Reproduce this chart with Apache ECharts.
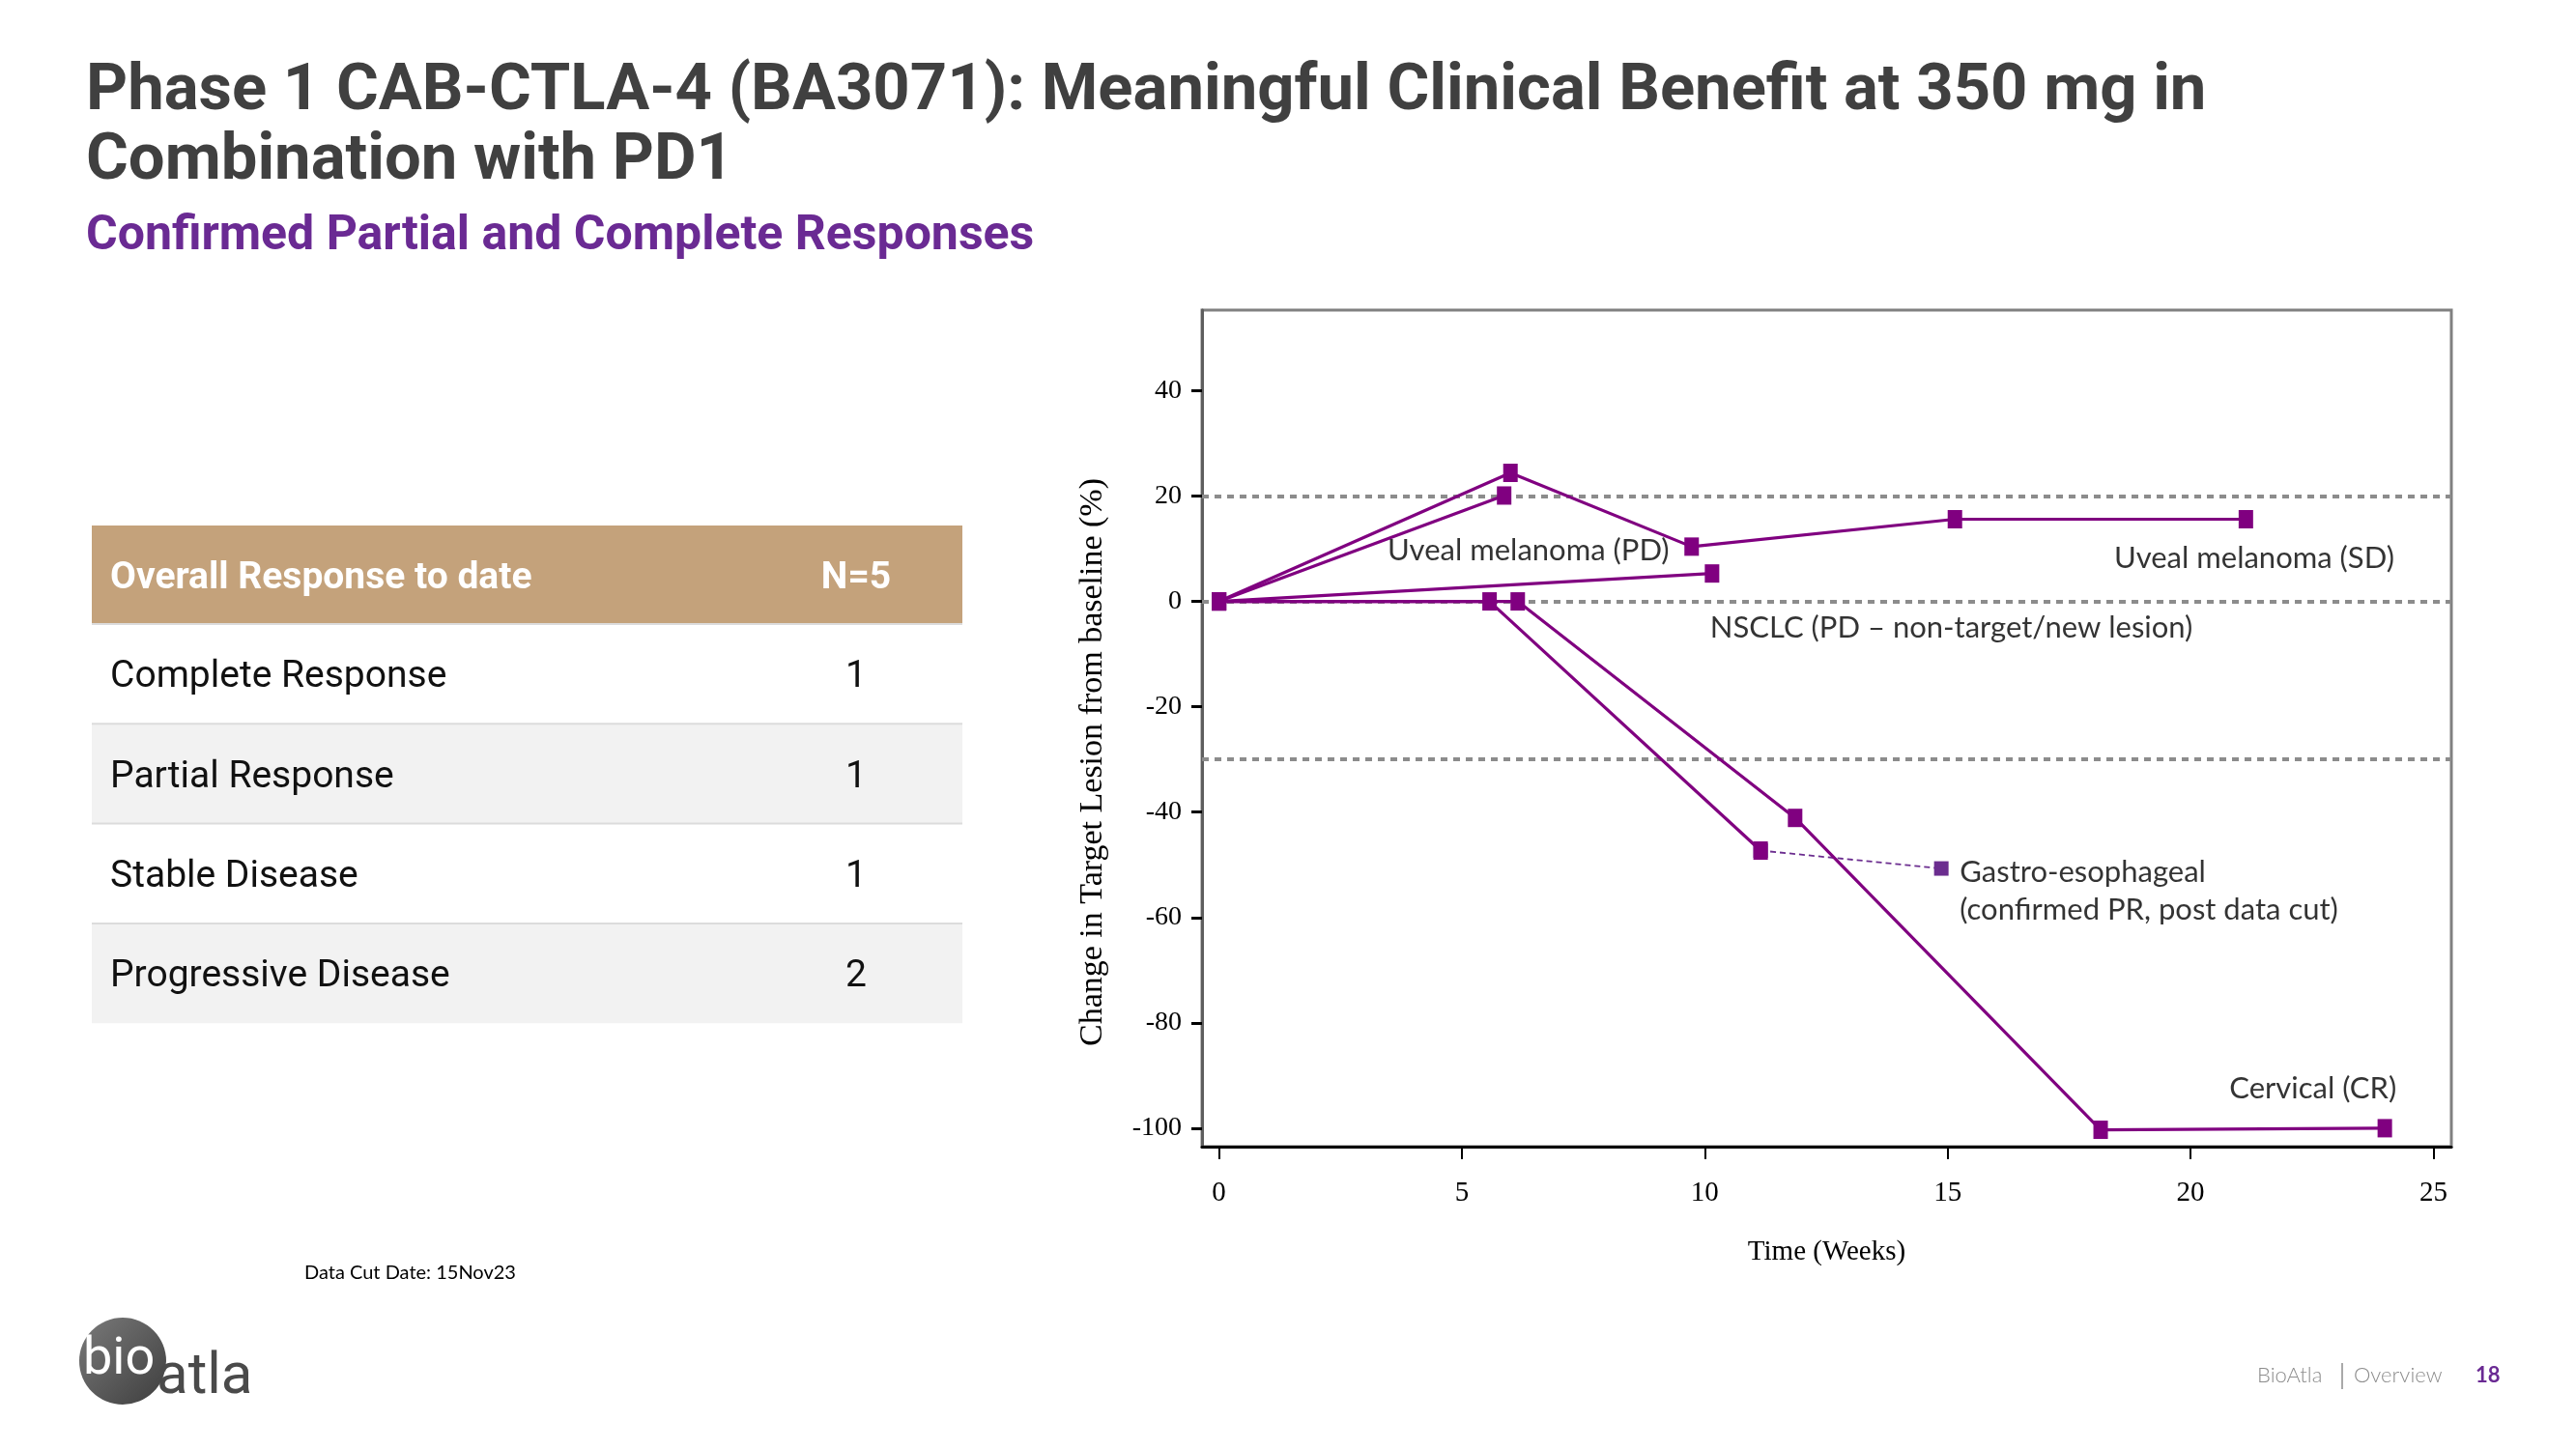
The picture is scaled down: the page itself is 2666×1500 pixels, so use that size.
<!DOCTYPE html>
<html><head><meta charset="utf-8">
<script src="https://cdn.jsdelivr.net/npm/echarts@6/dist/echarts.min.js"></script>
<style>html,body{margin:0;padding:0;background:#fff;}#main{width:2666px;height:1500px;}</style>
</head><body><div id="main"></div>
<script>
// ---------- data ----------
const uvealSD_weeks = [0, 6.0, 9.73, 15.15, 21.14];
const uvealSD_change = [0, 24.4, 10.4, 15.6, 15.6];
const uvealPD_weeks = [0, 5.87];
const uvealPD_change = [0, 20.1];
const nsclc_weeks = [0, 10.15];
const nsclc_change = [0, 5.3];
const gastro_weeks = [0, 5.57, 11.15];
const gastro_change = [0, 0, -47.3];
const gastroPost_weeks = [11.15, 14.87];
const gastroPost_change = [-47.3, -50.7];
const cervical_weeks = [0, 6.15, 11.86, 18.15, 24.0];
const cervical_change = [0, 0, -41.1, -100.3, -100];
const thresholds = [20, 0, -30];
const xTicks = [0, 5, 10, 15, 20, 25];
const yTicks = [40, 20, 0, -20, -40, -60, -80, -100];
const tableHeader = ['Overall Response to date', 'N=5'];
const tableCategories = ['Complete Response', 'Partial Response', 'Stable Disease', 'Progressive Disease'];
const tableCounts = [1, 1, 1, 2];
const annotationTexts = ['Uveal melanoma (PD)', 'Uveal melanoma (SD)', 'NSCLC (PD \u2013 non-target/new lesion)', 'Gastro-esophageal\n(confirmed PR, post data cut)', 'Cervical (CR)'];
// label anchors (data units: weeks, %)
const annotationWeeks = [3.47, 18.43, 10.11, 15.25, 20.8];
const annotationChange = [9.6, 8.1, -5.1, -55.0, -92.5];

// ---------- build ----------
const pts = (xs, ys) => xs.map((x, i) => [x, ys[i]]);
const PURPLE = '#800080';
const lineSeries = (name, xs, ys) => ({
  type: 'line', name, data: pts(xs, ys), symbol: 'rect', symbolSize: [15, 19],
  itemStyle: { color: PURPLE }, lineStyle: { color: PURPLE, width: 3.2 }, z: 5, clip: false
});

const chart = echarts.init(document.getElementById('main'), null, { renderer: 'canvas', width: 2666, height: 1500 });

const graphics = [];
// title
graphics.push({ type: 'text', left: 89, top: 60, style: { text: 'Phase 1 CAB-CTLA-4 (BA3071): Meaningful Clinical Benefit at 350 mg in\nCombination with PD1', font: 'bold 67px Roboto', fill: '#404040', lineHeight: 72 } });
graphics.push({ type: 'text', left: 89, top: 220, style: { text: 'Confirmed Partial and Complete Responses', font: 'bold 50px Roboto', fill: '#6a2a93' } });
// table
const TX = 95, TW = 901, TY = 544, HH = 102, RH = 103.3, TXT_DY = 4;
graphics.push({ type: 'rect', shape: { x: TX, y: TY, width: TW, height: HH }, style: { fill: '#c4a27b' } });
graphics.push({ type: 'text', x: 114, y: TY + HH / 2 + TXT_DY, style: { text: tableHeader[0], font: 'bold 39px Roboto', fill: '#fff', verticalAlign: 'middle' } });
graphics.push({ type: 'text', x: 886, y: TY + HH / 2 + TXT_DY, style: { text: tableHeader[1], font: 'bold 39px Roboto', fill: '#fff', verticalAlign: 'middle', align: 'center' } });
tableCategories.forEach((c, i) => {
  const y = TY + HH + i * RH;
  graphics.push({ type: 'rect', shape: { x: TX, y: y, width: TW, height: RH }, style: { fill: i % 2 ? '#f2f2f2' : '#ffffff' } });
  graphics.push({ type: 'line', shape: { x1: TX, y1: y, x2: TX + TW, y2: y }, style: { stroke: '#dcdcdc', lineWidth: 2 } });
  graphics.push({ type: 'text', x: 114, y: y + RH / 2 + TXT_DY, style: { text: c, font: '39px Roboto', fill: '#111', verticalAlign: 'middle' } });
  graphics.push({ type: 'text', x: 886, y: y + RH / 2 + TXT_DY, style: { text: String(tableCounts[i]), font: '39px Roboto', fill: '#111', verticalAlign: 'middle', align: 'center' } });
});
// footer
graphics.push({ type: 'text', x: 315, y: 1318, style: { text: 'Data Cut Date: 15Nov23', font: '20px Lato', fill: '#000', verticalAlign: 'middle' } });
graphics.push({ type: 'circle', shape: { cx: 127, cy: 1409, r: 45 }, style: { fill: new echarts.graphic.LinearGradient(0, 0, 1, 1, [{ offset: 0, color: '#7a7a7a' }, { offset: 1, color: '#3e3e3e' }]) } });
graphics.push({ type: 'text', x: 86, y: 1408, style: { text: 'bio', font: '54px Roboto', fill: '#ffffff', verticalAlign: 'middle' } });
graphics.push({ type: 'text', x: 162, y: 1427, style: { text: 'atla', font: '60px Roboto', fill: '#4a4a4a', verticalAlign: 'middle' } });
graphics.push({ type: 'text', x: 2336, y: 1424, style: { text: 'BioAtla', font: '300 22px Lato', fill: '#8c8c8c', verticalAlign: 'middle' } });
graphics.push({ type: 'line', shape: { x1: 2424, y1: 1411, x2: 2424, y2: 1438 }, style: { stroke: '#8c8c8c', lineWidth: 1.5 } });
graphics.push({ type: 'text', x: 2436, y: 1424, style: { text: 'Overview', font: '300 22px Lato', fill: '#8c8c8c', verticalAlign: 'middle' } });
graphics.push({ type: 'text', x: 2562, y: 1424, style: { text: '18', font: 'bold 22px Lato', fill: '#6a2a93', verticalAlign: 'middle' } });

const option = {
  animation: false,
  backgroundColor: '#ffffff',
  grid: { left: 1244, top: 321, width: 1293, height: 866, show: true, borderColor: '#808080', borderWidth: 3, containLabel: false },
  xAxis: {
    type: 'value', min: -0.35, max: 25.37,
    name: 'Time (Weeks)', nameLocation: 'middle', nameGap: 95,
    nameTextStyle: { fontFamily: 'Liberation Serif', fontSize: 29, color: '#000' },
    axisLine: { show: true, onZero: false, lineStyle: { color: '#000', width: 3 } },
    axisTick: { show: true, customValues: xTicks, length: 13, lineStyle: { color: '#000', width: 2 } },
    axisLabel: { customValues: xTicks, margin: 34, fontFamily: 'Liberation Serif', fontSize: 29, color: '#000' },
    splitLine: { show: false }
  },
  yAxis: {
    type: 'value', min: -103.5, max: 55.3,
    name: 'Change in Target Lesion from baseline (%)', nameLocation: 'middle', nameGap: 96,
    nameTextStyle: { fontFamily: 'Liberation Serif', fontSize: 34, color: '#000', padding: [0, 70, 0, 0] },
    axisLine: { show: true, onZero: false, lineStyle: { color: '#5e5e5e', width: 3 } },
    axisTick: { show: true, customValues: yTicks, length: 11, lineStyle: { color: '#000', width: 3 } },
    axisLabel: { customValues: yTicks, margin: 21, fontFamily: 'Liberation Serif', fontSize: 28, color: '#000' },
    splitLine: { show: false }
  },
  graphic: graphics,
  series: [
    { type: 'line', name: 'thresholds', data: [], z: 1,
      markLine: { silent: true, symbol: 'none', label: { show: false },
        lineStyle: { color: '#8c8c8c', width: 4, type: [7, 6] },
        data: thresholds.map(v => ({ yAxis: v })) } },
    lineSeries('Uveal melanoma (SD)', uvealSD_weeks, uvealSD_change),
    lineSeries('Uveal melanoma (PD)', uvealPD_weeks, uvealPD_change),
    lineSeries('NSCLC', nsclc_weeks, nsclc_change),
    lineSeries('Gastro-esophageal', gastro_weeks, gastro_change),
    lineSeries('Cervical (CR)', cervical_weeks, cervical_change),
    { type: 'line', name: 'Gastro-esophageal (post data cut)', data: pts(gastroPost_weeks, gastroPost_change), z: 4,
      symbol: 'rect', symbolSize: 15,
      itemStyle: { color: '#6b2d8f' }, lineStyle: { color: '#6b2d8f', width: 1.8, type: [6, 4] } },
    { type: 'scatter', name: 'labels', symbolSize: 0, z: 6, silent: true,
      data: annotationTexts.map((t, i) => ({ value: [annotationWeeks[i], annotationChange[i]], label: { formatter: t } })),
      label: { show: true, position: [0, 0], align: 'left', verticalAlign: 'middle', fontFamily: 'Lato', fontSize: 31, lineHeight: 39, color: '#000' } }
  ]
};
chart.setOption(option);
</script></body></html>
